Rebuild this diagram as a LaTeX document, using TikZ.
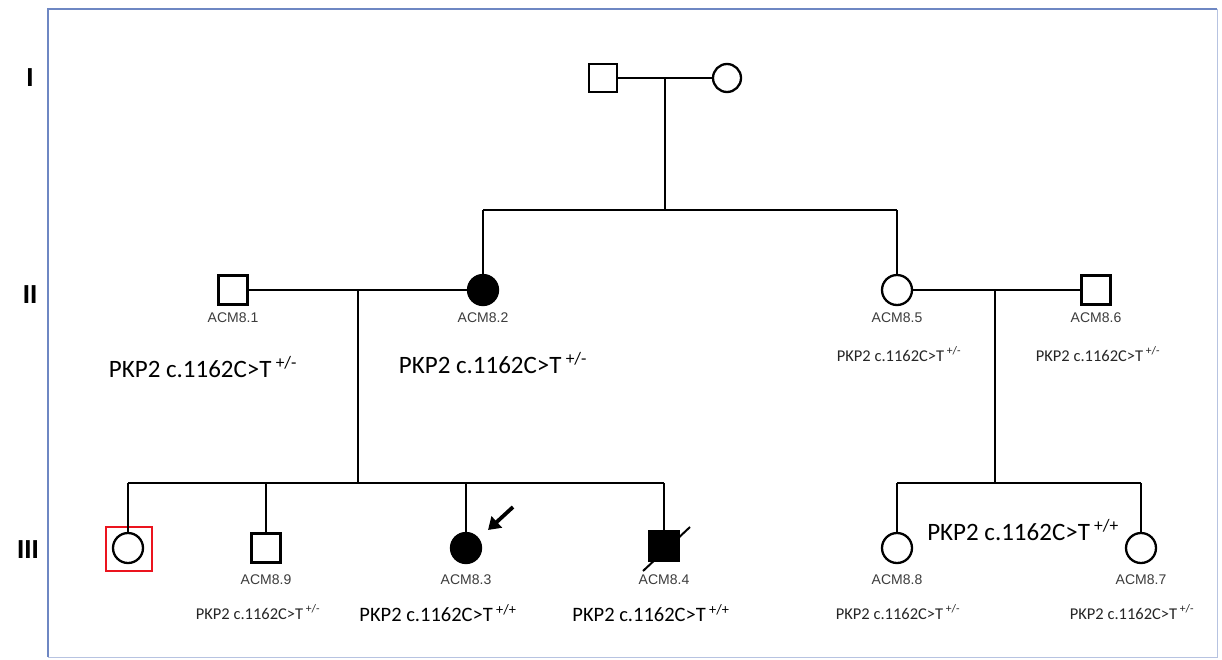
\documentclass[tikz,border=0pt]{standalone}
\usepackage{fontspec}
\setmainfont{Carlito}
\newfontfamily\labfont{Liberation Sans}
\newfontfamily\genfont{Liberation Sans}
\usetikzlibrary{arrows.meta}
\definecolor{framecol}{RGB}{110,135,195}
\definecolor{labgray}{RGB}{60,60,60}
\definecolor{boxred}{RGB}{235,20,30}
\begin{document}
\begin{tikzpicture}[x=1pt,y=-1pt,
  male/.style={rectangle,draw=black,line width=2.3pt,minimum size=29pt,inner sep=0pt,fill=white},
  female/.style={circle,draw=black,line width=2.3pt,minimum size=30pt,inner sep=0pt,fill=white},
  aff/.style={fill=black},
  link/.style={line width=2.6pt,draw=black},
  idlab/.style={font=\labfont\fontsize{14}{16}\selectfont,text=labgray},
  gbig/.style={font=\fontsize{25}{30}\selectfont},
  gmid/.style={font=\fontsize{20.5}{24}\selectfont},
  gsmall/.style={font=\fontsize{16.5}{20}\selectfont,text=black!85},
  genlab/.style={font=\genfont\bfseries\fontsize{26}{30}\selectfont}
]
\useasboundingbox (0,0) rectangle (1222,659);
\fill[white] (0,0) rectangle (1222,659);
% frame
\draw[framecol,line width=1.3pt] (48,657) -- (48,9) -- (1217,9);
\draw[framecol!50,line width=1pt] (1217,9) -- (1217,657) -- (48,657);

% generation labels
\node[genlab] (gI) at (30,78) {I};
\node[genlab] (gII) at (30,295) {II};
\node[genlab] (gIII) at (28,550) {III};

% generation I
\node[male,minimum size=28pt] (m0) at (603,78) {};
\node[female,minimum size=28pt] (f0) at (727,78) {};
\coordinate (c0) at (665,78);
\coordinate (s0) at (665,210);
\coordinate (s0a) at (483,210);
\coordinate (s0b) at (897,210);

% generation II
\node[male] (a1) at (233,290) {};
\node[female,aff] (a2) at (483,290) {};
\node[female] (a5) at (897,290) {};
\node[male] (a6) at (1096,290) {};
\coordinate (c1) at (358,290);
\coordinate (c2) at (995,290);
\coordinate (s1) at (358,483);
\coordinate (s2) at (995,483);
\coordinate (s1a) at (128,483);
\coordinate (s1b) at (664,483);
\coordinate (s2a) at (897,483);
\coordinate (s2b) at (1141,483);
\coordinate (s1c) at (266,483);
\coordinate (s1d) at (466,483);

% generation III
\node[female] (b0) at (128,548) {};
\node[draw=boxred,line width=2.8pt,minimum width=46pt,minimum height=44pt,inner sep=0pt] (box) at (129,549) {};
\node[male] (a9) at (266,548) {};
\node[female,aff] (a3) at (466,548) {};
\node[male,aff] (a4) at (664,546) {};
\node[female] (a8) at (897,548) {};
\node[female] (a7) at (1141,548) {};

% connectors
\draw[link] (m0.east) -- (f0.west);
\draw[link] (c0) -- (s0);
\draw[link] (s0a) -- (s0b);
\draw[link] (s0a) -- (a2.north);
\draw[link] (s0b) -- (a5.north);
\draw[link] (a1.east) -- (a2.west);
\draw[link] (a5.east) -- (a6.west);
\draw[link] (c1) -- (s1);
\draw[link] (c2) -- (s2);
\draw[link] (s1a) -- (s1b);
\draw[link] (s2a) -- (s2b);
\draw[link] (s1a) -- (b0.north);
\draw[link] (s1c) -- (a9.north);
\draw[link] (s1d) -- (a3.north);
\draw[link] (s1b) -- (a4.north);
\draw[link] (s2a) -- (a8.north);
\draw[link] (s2b) -- (a7.north);

% deceased slash
\coordinate (d1) at (643,571);
\coordinate (d2) at (690,527);
\draw[line width=2pt] (d1) -- (d2);

% proband arrow
\coordinate (p1) at (513,507);
\coordinate (p2) at (488,530);
\draw[line width=3.8pt,-{Triangle[length=12pt,width=15pt]}] (p1) -- (p2);

% ID labels
\node[idlab] (l1) at (233,318) {ACM8.1};
\node[idlab] (l2) at (483,318) {ACM8.2};
\node[idlab] (l5) at (897,318) {ACM8.5};
\node[idlab] (l6) at (1096,318) {ACM8.6};
\node[idlab] (l9) at (266,580) {ACM8.9};
\node[idlab] (l3) at (466,580) {ACM8.3};
\node[idlab] (l4) at (664,580) {ACM8.4};
\node[idlab] (l8) at (897,580) {ACM8.8};
\node[idlab] (l7) at (1141,580) {ACM8.7};

% genotypes
\node[gbig] (g1) at (203,367) {PKP2 c.1162C>T\,\textsuperscript{+/-}};
\node[gbig] (g2) at (493,363) {PKP2 c.1162C>T\,\textsuperscript{+/-}};
\node[gsmall] (g5) at (899,354) {PKP2 c.1162C>T\,\textsuperscript{+/-}};
\node[gsmall] (g6) at (1098,354) {PKP2 c.1162C>T\,\textsuperscript{+/-}};
\node[gbig] (g78) at (1023,530) {PKP2 c.1162C>T\,\textsuperscript{+/+}};
\node[gsmall] (g9) at (258,612) {PKP2 c.1162C>T\,\textsuperscript{+/-}};
\node[gmid] (g3) at (438,613) {PKP2 c.1162C>T\,\textsuperscript{+/+}};
\node[gmid] (g4) at (651,613) {PKP2 c.1162C>T\,\textsuperscript{+/+}};
\node[gsmall] (g8) at (898,612) {PKP2 c.1162C>T\,\textsuperscript{+/-}};
\node[gsmall] (g7) at (1132,612) {PKP2 c.1162C>T\,\textsuperscript{+/-}};
\end{tikzpicture}
\end{document}
